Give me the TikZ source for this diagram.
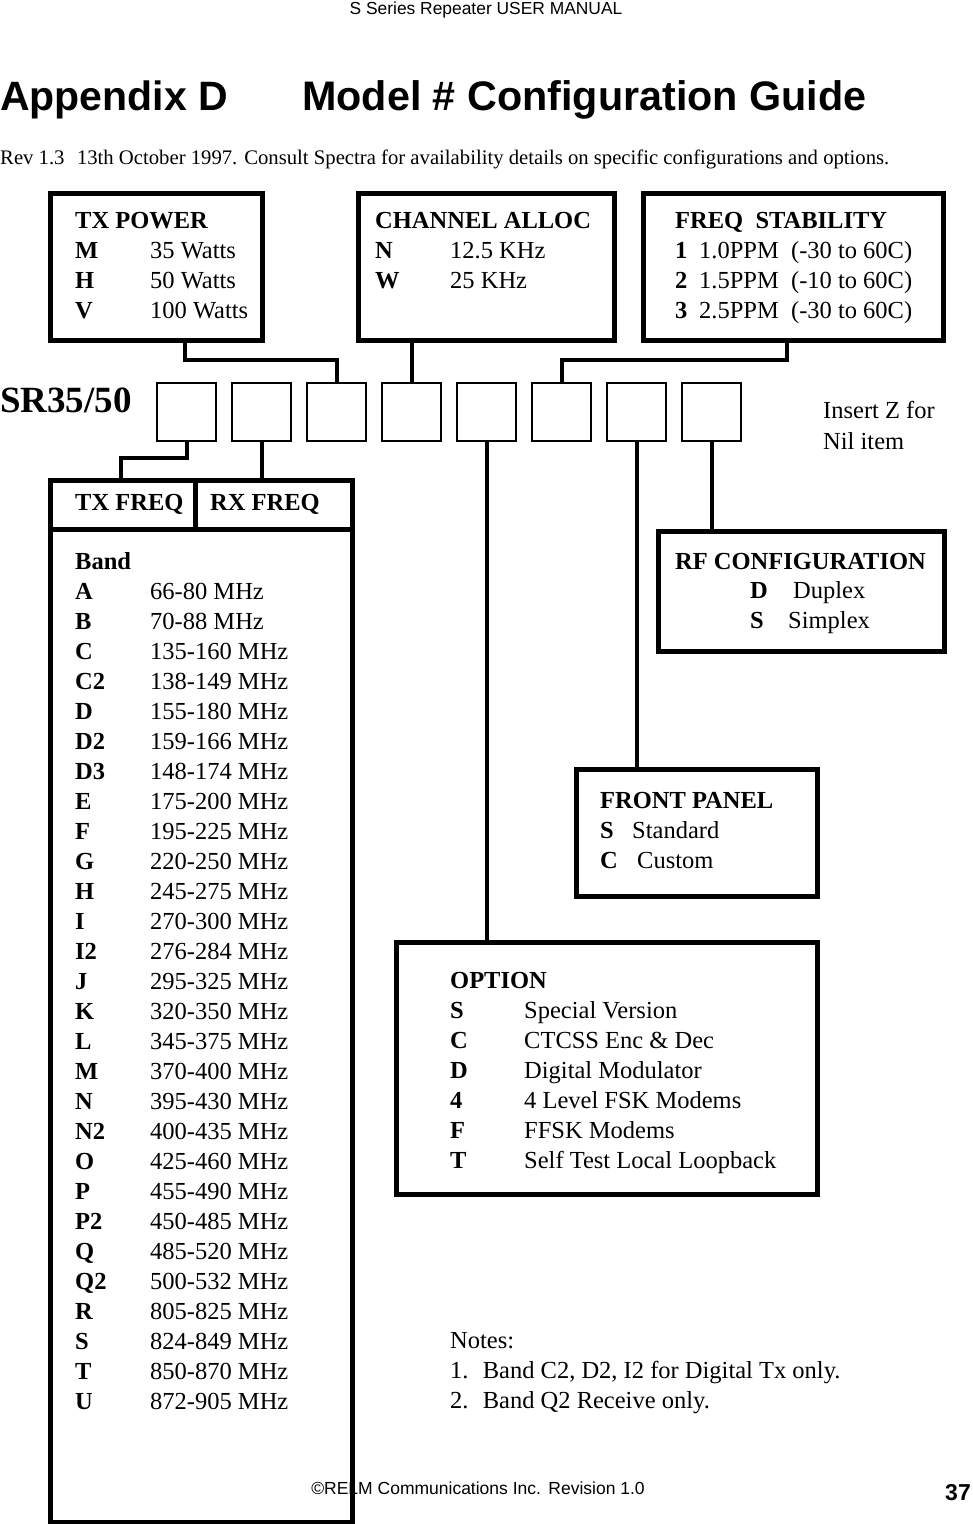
\documentclass[tikz,border=0pt]{standalone}
\usepackage{fontspec}
\setmainfont{Liberation Serif}
\setsansfont{Liberation Sans}
\begin{document}
\begin{tikzpicture}[x=1pt,y=-1pt,
  t/.style={anchor=base west, inner sep=0pt, font=\fontsize{24.5}{30}\selectfont},
  tb/.style={anchor=base west, inner sep=0pt, font=\fontsize{24.5}{30}\selectfont\bfseries},
  bx/.style={draw, line width=5pt, rectangle, inner sep=0pt, outer sep=0pt, anchor=north west},
  sbox/.style={draw, line width=2pt, rectangle, inner sep=0pt, outer sep=0pt, anchor=north west, minimum width=59pt, minimum height=58pt},
  conn/.style={line width=4pt}]
\useasboundingbox (0,0) rectangle (973,1524);
\fill[white] (0,0) rectangle (973,1524);

% header / title
\node[anchor=base, inner sep=0pt, font=\fontsize{17.4}{17.4}\sffamily] (hdr) at (486,14) {S Series Repeater USER MANUAL};
\node[anchor=base west, inner sep=0pt, font=\fontsize{41}{41}\sffamily\bfseries] (ttl1) at (0,110) {Appendix D};
\node[anchor=base west, inner sep=0pt, font=\fontsize{41.3}{41}\sffamily\bfseries] (ttl2) at (302,110) {Model \# Configuration Guide};
\node[anchor=base west, inner sep=0pt, font=\fontsize{20.7}{20.7}\selectfont] (rev) at (0,164) {Rev 1.3\hspace{0.6em}13th October 1997. Consult Spectra for availability details on specific configurations and options.};

% top boxes
\node[bx, minimum width=212pt, minimum height=147pt] (txpow) at (50,193) {};
\node[bx, minimum width=256pt, minimum height=147pt] (chan) at (358,193) {};
\node[bx, minimum width=300pt, minimum height=147pt] (freq) at (643,193) {};

\node[tb] (tp0) at (75,228) {TX POWER};
\node[tb] (tp1) at (75,258) {M};  \node[t] (tp1v) at (150,258) {35 Watts};
\node[tb] (tp2) at (75,288) {H};  \node[t] (tp2v) at (150,288) {50 Watts};
\node[tb] (tp3) at (75,318) {V};  \node[t] (tp3v) at (150,318) {100 Watts};

\node[tb] (ch0) at (375,228) {CHANNEL ALLOC};
\node[tb] (ch1) at (375,258) {N};  \node[t] (ch1v) at (450,258) {12.5 KHz};
\node[tb] (ch2) at (375,288) {W};  \node[t] (ch2v) at (450,288) {25 KHz};

\node[tb] (fs0) at (675,228) {FREQ\hspace{0.25em} STABILITY};
\node[tb] (fs1) at (675,258) {1};  \node[t] (fs1v) at (699,258) {1.0PPM\hspace{0.25em} (-30 to 60C)};
\node[tb] (fs2) at (675,288) {2};  \node[t] (fs2v) at (699,288) {1.5PPM\hspace{0.25em} (-10 to 60C)};
\node[tb] (fs3) at (675,318) {3};  \node[t] (fs3v) at (699,318) {2.5PPM\hspace{0.25em} (-30 to 60C)};

% model code row
\node[anchor=base west, inner sep=0pt, font=\fontsize{37}{37}\selectfont\bfseries] (sr) at (0,412) {SR35/50};
\foreach \i in {1,...,8} {
  \node[sbox] (b\i) at ({157+75*(\i-1)},383) {};
}
\node[t] (ins1) at (823,418) {Insert Z for};
\node[t] (ins2) at (823,449) {Nil item};

% lower boxes
\node[bx, minimum width=302pt, minimum height=1042pt] (txrx) at (50,480) {};
\coordinate (hd1) at (50,529);
\coordinate (hd2) at (352,529);
\draw[line width=5pt] (hd1) -- (hd2);
\coordinate (vd) at (195,529);
\draw[line width=5pt] (vd) -- (vd |- txrx.north);
\node[tb] (txf) at (75,510) {TX FREQ};
\node[tb] (rxf) at (210,510) {RX FREQ};
\node[tb] (band) at (75,569) {Band};
\foreach \l/\v [count=\i] in {A/66-80 MHz,B/70-88 MHz,C/135-160 MHz,C2/138-149 MHz,D/155-180 MHz,D2/159-166 MHz,D3/148-174 MHz,E/175-200 MHz,F/195-225 MHz,G/220-250 MHz,H/245-275 MHz,I/270-300 MHz,I2/276-284 MHz,J/295-325 MHz,K/320-350 MHz,L/345-375 MHz,M/370-400 MHz,N/395-430 MHz,N2/400-435 MHz,O/425-460 MHz,P/455-490 MHz,P2/450-485 MHz,Q/485-520 MHz,Q2/500-532 MHz,R/805-825 MHz,S/824-849 MHz,T/850-870 MHz,U/872-905 MHz} {
  \node[tb] (bl\i) at (75,{569+30*\i}) {\l};
  \node[t] (bv\i) at (150,{569+30*\i}) {\v};
}

\node[bx, minimum width=286pt, minimum height=120pt] (rf) at (658,531) {};
\node[tb] (rf0) at (675,569) {RF CONFIGURATION};
\node[tb] (rf1) at (750,598) {D};  \node[t] (rf1v) at (793,598) {Duplex};
\node[tb] (rf2) at (750,628) {S};  \node[t] (rf2v) at (788,628) {Simplex};

\node[bx, minimum width=241pt, minimum height=127pt] (fp) at (576,769) {};
\node[tb] (fp0) at (600,808) {FRONT PANEL};
\node[tb] (fp1) at (600,838) {S};  \node[t] (fp1v) at (632,838) {Standard};
\node[tb] (fp2) at (600,868) {C};  \node[t] (fp2v) at (637,868) {Custom};

\node[bx, minimum width=421pt, minimum height=252pt] (opt) at (396,942) {};
\node[tb] (op0) at (450,988) {OPTION};
\foreach \l/\v [count=\i] in {S/Special Version,C/CTCSS Enc \& Dec,D/Digital Modulator,4/4 Level FSK Modems,F/FFSK Modems,T/Self Test Local Loopback} {
  \node[tb] (ol\i) at (450,{988+30*\i}) {\l};
  \node[t] (ov\i) at (524,{988+30*\i}) {\v};
}

\node[t] (n0) at (450,1348) {Notes:};
\node[t] (n1) at (450,1378) {1.\hspace{0.25em} Band C2, D2, I2 for Digital Tx only.};
\node[t] (n2) at (450,1408) {2.\hspace{0.25em} Band Q2 Receive only.};

% connectors
\coordinate (c1) at (185,360);
\draw[conn] (txpow.south -| c1) -- (c1) -| (b3.north);
\draw[conn] (chan.south -| b4.north) -- (b4.north);
\coordinate (c3) at (787,360);
\draw[conn] (freq.south -| c3) -- (c3) -| (b6.north);
\coordinate (c4) at (121,458);
\draw[conn] (b1.south) |- (c4) -- (c4 |- txrx.north);
\draw[conn] (b2.south) -- (b2.south |- txrx.north);
\draw[conn] (b5.south) -- (b5.south |- opt.north);
\draw[conn] (b7.south) -- (b7.south |- fp.north);
\draw[conn] (b8.south) -- (b8.south |- rf.north);

% footer
\node[anchor=base, inner sep=0pt, font=\fontsize{17.5}{17.5}\sffamily] (ftr) at (478,1494) {\char"00A9 RELM Communications Inc.\hspace{0.05em} Revision 1.0};
\node[anchor=base east, inner sep=0pt, font=\fontsize{23}{23}\sffamily\bfseries] (pg) at (971,1500) {37};
\end{tikzpicture}
\end{document}
